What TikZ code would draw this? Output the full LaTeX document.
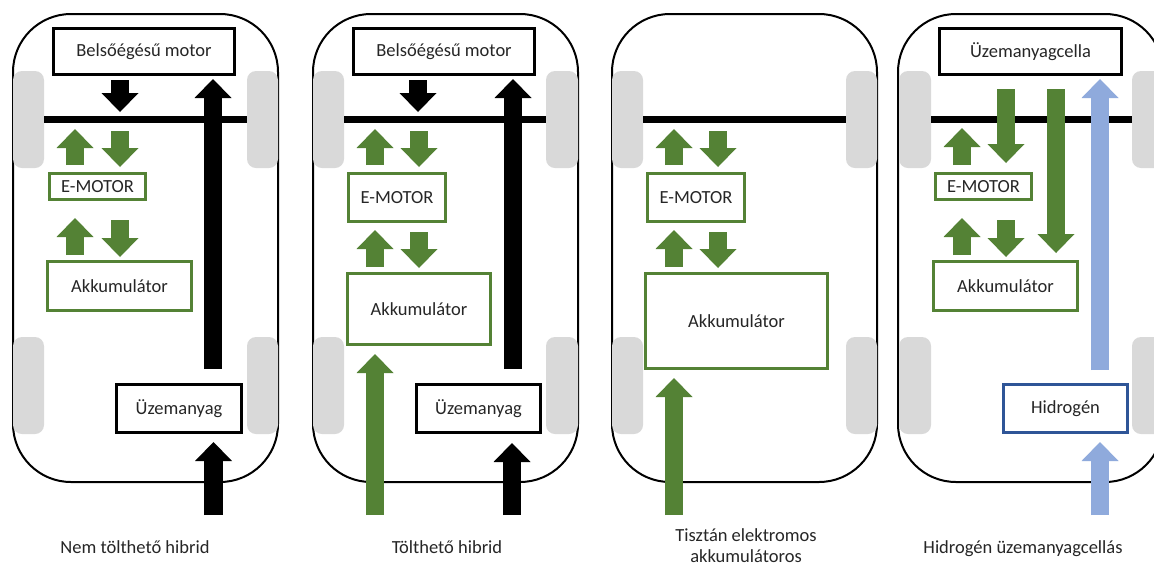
\documentclass[tikz,border=0pt]{standalone}
\usepackage{fontspec}
\setmainfont{Carlito}
\usetikzlibrary{calc, arrows.meta}

\definecolor{emgreen}{HTML}{548235}
\definecolor{hblue}{HTML}{8FAADC}
\definecolor{hbluedark}{HTML}{2F5597}
\definecolor{wheelgray}{HTML}{D9D9D9}

\begin{document}
\begin{tikzpicture}[x=1pt, y=-1pt,
    font=\fontsize{18.5}{21}\selectfont, text=black!85,
    carbody/.style={draw=black, line width=2pt, rounded corners=58pt},
    wheel/.style={fill=wheelgray, rounded corners=9pt},
    axle/.style={draw=black, line width=7pt},
    blackbox/.style={draw=black, line width=3pt, fill=white, inner sep=0pt},
    greenbox/.style={draw=emgreen, line width=3pt, fill=white, inner sep=0pt},
    bluebox/.style={draw=hbluedark, line width=3pt, fill=white, inner sep=0pt},
    fatarrow/.style={line width=18.5pt, -{Triangle[length=19pt, width=37pt, line width=0pt]}},
    caption/.style={anchor=base}]

  \clip (0,0) rectangle (1154,566);
  \fill[white] (0,0) rectangle (1154,566);

  % --- Car bodies ---
  \draw[carbody] (13,14) rectangle (278,482);
  \draw[carbody] (313,14) rectangle (578,482);
  \draw[carbody] (612,14) rectangle (877,482);
  \draw[carbody] (898,14) rectangle (1163,482);

  % --- Wheels ---
  \fill[wheel] (13,71) rectangle (44,168);
  \fill[wheel] (13,337) rectangle (44,434);
  \fill[wheel] (247,71) rectangle (278,168);
  \fill[wheel] (247,337) rectangle (278,434);

  \fill[wheel] (313,71) rectangle (344,168);
  \fill[wheel] (313,337) rectangle (344,434);
  \fill[wheel] (546,71) rectangle (578,168);
  \fill[wheel] (546,337) rectangle (578,434);

  \fill[wheel] (612,71) rectangle (643,168);
  \fill[wheel] (612,337) rectangle (643,434);
  \fill[wheel] (846,71) rectangle (877,168);
  \fill[wheel] (846,337) rectangle (877,434);

  \fill[wheel] (899,71) rectangle (931,168);
  \fill[wheel] (899,337) rectangle (931,434);
  \fill[wheel] (1132,71) rectangle (1163,168);
  \fill[wheel] (1132,337) rectangle (1163,434);

  % --- Axles ---
  \draw[axle] (44,119) -- (247,119);
  \draw[axle] (344,119) -- (546,119);
  \draw[axle] (643,119) -- (846,119);
  \draw[axle] (931,119) -- (1132,119);

  % --- Panel 1: nem tolthető hibrid ---
  \node[blackbox, minimum width=181pt, minimum height=46pt] (mot1) at (144,51.5) {Belsőégésű motor};
  \node[greenbox, minimum width=96pt, minimum height=26pt] (em1) at (97.5,186.5) {E-MOTOR};
  \node[greenbox, minimum width=144pt, minimum height=49pt] (akk1) at (119.5,286) {Akkumulátor};
  \node[blackbox, minimum width=125pt, minimum height=48pt] (uz1) at (179,408.5) {Üzemanyag};

  \draw[fatarrow] ($(mot1.south)+(-24,4)$) -- ($(mot1.south)+(-24,36)$);
  \draw[fatarrow] ($(uz1.north)+(34,-14)$) -- ($(mot1.south)+(69,3)$);
  \draw[fatarrow, emgreen] ($(em1.north)+(-22.5,-7)$) -- ($(em1.north)+(-22.5,-43)$);
  \draw[fatarrow, emgreen] ($(em1.north)+(22.5,-41)$) -- ($(em1.north)+(22.5,-5)$);
  \draw[fatarrow, emgreen] ($(akk1.north)+(-44.5,-5)$) -- ($(akk1.north)+(-44.5,-42)$);
  \draw[fatarrow, emgreen] ($(em1.south)+(22.5,19)$) -- ($(akk1.north)+(0.5,-3)$);
  \draw[fatarrow] ($(uz1.south)+(34.5,81)$) -- ($(uz1.south)+(34.5,8)$);

  \node[caption] (cap1) at (135,553) {Nem tölthető hibrid};

  % --- Panel 2: tolthető hibrid ---
  \node[blackbox, minimum width=181pt, minimum height=46pt] (mot2) at (444,51.5) {Belsőégésű motor};
  \node[greenbox, minimum width=97pt, minimum height=48pt] (em2) at (397,197.5) {E-MOTOR};
  \node[greenbox, minimum width=143pt, minimum height=71pt] (akk2) at (419,309) {Akkumulátor};
  \node[blackbox, minimum width=124pt, minimum height=48pt] (uz2) at (478.5,408.5) {Üzemanyag};

  \draw[fatarrow] ($(mot2.south)+(-26,4)$) -- ($(mot2.south)+(-26,36)$);
  \draw[fatarrow] ($(uz2.north)+(34.5,-14)$) -- ($(mot2.south)+(69,3)$);
  \draw[fatarrow, emgreen] ($(em2.north)+(-22,-7)$) -- ($(em2.north)+(-22,-43)$);
  \draw[fatarrow, emgreen] ($(em2.north)+(22,-41)$) -- ($(em2.north)+(22,-5)$);
  \draw[fatarrow, emgreen] ($(akk2.north)+(-44,-5)$) -- ($(em2.south)+(-22,7)$);
  \draw[fatarrow, emgreen] ($(em2.south)+(22,9)$) -- ($(akk2.north)+(0,-4)$);
  \draw[fatarrow, emgreen] ($(akk2.south)+(-44,169)$) -- ($(akk2.south)+(-44,8)$);
  \draw[fatarrow] ($(uz2.south)+(33.5,81)$) -- ($(uz2.south)+(33.5,9)$);

  \node[caption] (cap2) at (447,553) {Tölthető hibrid};

  % --- Panel 3: tisztan elektromos ---
  \node[greenbox, minimum width=97pt, minimum height=48pt] (em3) at (696,197.5) {E-MOTOR};
  \node[greenbox, minimum width=182pt, minimum height=95pt] (akk3) at (736.5,321) {Akkumulátor};

  \draw[fatarrow, emgreen] ($(em3.north)+(-22,-7)$) -- ($(em3.north)+(-22,-43)$);
  \draw[fatarrow, emgreen] ($(em3.north)+(22,-41)$) -- ($(em3.north)+(22,-5)$);
  \draw[fatarrow, emgreen] ($(akk3.north)+(-62.5,-5)$) -- ($(em3.south)+(-22,7)$);
  \draw[fatarrow, emgreen] ($(em3.south)+(22,9)$) -- ($(akk3.north)+(-18.5,-4)$);
  \draw[fatarrow, emgreen] ($(akk3.south)+(-62.5,145)$) -- ($(akk3.south)+(-62.5,8)$);

  \node[align=center] (cap3) at (746,546) {Tisztán elektromos\\akkumulátoros};

  % --- Panel 4: hidrogen uzemanyagcellas ---
  \node[blackbox, minimum width=182pt, minimum height=46pt] (cell4) at (1030.5,51.5) {Üzemanyagcella};
  \node[greenbox, minimum width=96pt, minimum height=26pt] (em4) at (983.5,186.5) {E-MOTOR};
  \node[greenbox, minimum width=144pt, minimum height=49pt] (akk4) at (1005.5,286) {Akkumulátor};
  \node[bluebox, minimum width=124pt, minimum height=48pt] (hid4) at (1065.5,408.5) {Hidrogén};

  \draw[fatarrow, emgreen] ($(cell4.south)+(-24.5,13)$) -- ($(em4.north)+(22.5,-9)$);
  \draw[fatarrow, emgreen] ($(cell4.south)+(25.5,13)$) -- ($(akk4.north)+(50.5,-7)$);
  \draw[fatarrow, emgreen] ($(em4.north)+(-21.5,-7)$) -- ($(em4.north)+(-21.5,-44)$);
  \draw[fatarrow, emgreen] ($(akk4.north)+(-43.5,-5)$) -- ($(em4.south)+(-21.5,17)$);
  \draw[fatarrow, emgreen] ($(em4.south)+(22.5,19)$) -- ($(akk4.north)+(0.5,-3)$);
  \draw[fatarrow, hblue] ($(hid4.north)+(34.5,-13)$) -- ($(cell4.south)+(69.5,3)$);
  \draw[fatarrow, hblue] ($(hid4.south)+(34.5,81)$) -- ($(hid4.south)+(34.5,8)$);

  \node[caption] (cap4) at (1023,553) {Hidrogén üzemanyagcellás};
\end{tikzpicture}
\end{document}
